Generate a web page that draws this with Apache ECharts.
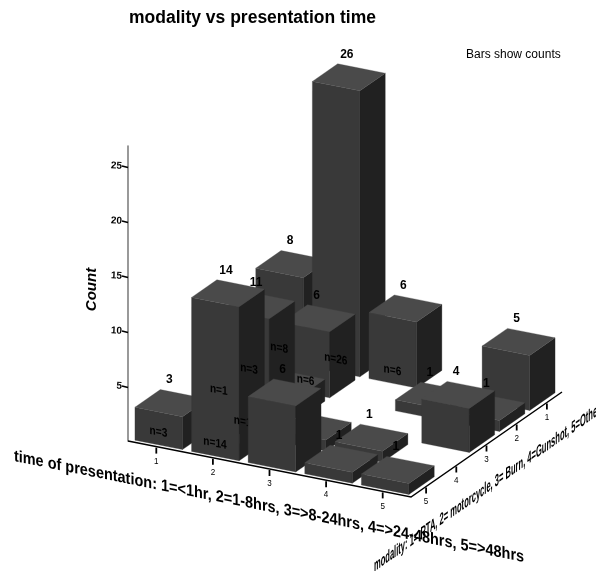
<!DOCTYPE html>
<html><head><meta charset="utf-8">
<style>html,body{margin:0;padding:0;background:#fff}#c{width:596px;height:571px}</style>
<script src="https://cdn.jsdelivr.net/npm/echarts@6/dist/echarts.min.js"></script>
</head><body><div id="c"></div>
<script>
var titleText = 'modality vs presentation time';
var noteText = 'Bars show counts';
var countTitle = 'Count';
var timeTitle = 'time of presentation: 1=<1hr, 2=1-8hrs, 3=>8-24hrs, 4=>24-48hrs, 5=>48hrs';
var modalityTitle = 'modality: 1= RTA, 2= motorcycle, 3= Burn, 4=Gunshot, 5=Other';
var timeTicks = [1, 2, 3, 4, 5];
var modalityTicks = [1, 2, 3, 4, 5];
var countTicks = [5, 10, 15, 20, 25];

// bars in painting order: back to front
var backTime     = [1, 2, 3, 5, 1, 2, 4, 5, 1, 2, 5, 2, 3, 4, 1, 2];
var backModality = [1, 1, 1, 1, 2, 2, 2, 2, 3, 3, 3, 4, 4, 4, 5, 5];
var backCount    = [8, 26, 6, 5, 3, 6, 1, 1, 1, 2, 4, 11, 1, 1, 3, 14];
var frontTime     = [3, 4, 5];
var frontModality = [5, 5, 5];
var frontCount    = [6, 1, 1];

// "n=..." labels visible in the picture
var nTime     = [1, 2, 1, 2, 1, 1, 2, 2, 3];
var nModality = [5, 5, 3, 4, 2, 1, 1, 2, 1];
var nCount    = [3, 14, 1, 11, 3, 8, 26, 6, 6];
// counts printed above bars, visible in the picture
var topTime     = [1, 2, 2, 1, 2, 2, 3, 3, 5, 5, 4, 4, 5, 5, 4];
var topModality = [5, 5, 4, 1, 1, 2, 1, 5, 1, 3, 5, 4, 5, 2, 2];
var topCount    = [3, 14, 11, 8, 26, 6, 6, 6, 5, 4, 1, 1, 1, 1, 1];

// oblique projection
var TIME_STEP = [56.6, 11.2], MOD_STEP = [30.2, -21], CORNER = [283, 56];
var HALF = 0.42;
var FONT = '"Liberation Sans", Arial, sans-serif';
var NARROW = '"Liberation Sans Narrow", "Liberation Sans", Arial, sans-serif';
var TOP = '#4a4a4a', FRONT = '#393939', SIDE = '#212121';

function proj(api, t, m, h) {
  var o = api.coord([0, h]);
  return [
    o[0] + CORNER[0] + (t - 5.5) * TIME_STEP[0] + (5.5 - m) * MOD_STEP[0],
    o[1] + CORNER[1] + (t - 5.5) * TIME_STEP[1] + (5.5 - m) * MOD_STEP[1]
  ];
}
// text whose baseline follows a floor edge while its stems stay upright: y' = y + slope * x
function shearedText(x, y, sx, slope, sy, style, z) {
  var a = sx, b = 0, c = slope * sx, d = sy;
  var E = (a + d) / 2, F = (a - d) / 2, G = (c + b) / 2, H = (c - b) / 2;
  var Q = Math.hypot(E, H), R = Math.hypot(F, G);
  var a1 = Math.atan2(G, F), a2 = Math.atan2(H, E);
  var theta = (a2 - a1) / 2, phi = (a2 + a1) / 2;
  return {type: 'group', x: x, y: y, rotation: -phi, scaleX: Q + R, scaleY: Q - R, z: z,
    children: [{type: 'text', rotation: -theta, z: z, style: style}]};
}
function poly(pts, fill) {
  return {type: 'polygon', shape: {points: pts}, style: {fill: fill, stroke: fill, lineWidth: 0.3}};
}
function renderBar(params, api) {
  var t = api.value(0), m = api.value(1), h = api.value(2);
  var l = t - HALF, r = t + HALF, f = m + HALF, b = m - HALF;
  return {type: 'group', children: [
    poly([proj(api,l,f,0), proj(api,r,f,0), proj(api,r,f,h), proj(api,l,f,h)], FRONT),
    poly([proj(api,r,f,0), proj(api,r,b,0), proj(api,r,b,h), proj(api,r,f,h)], SIDE),
    poly([proj(api,l,f,h), proj(api,r,f,h), proj(api,r,b,h), proj(api,l,b,h)], TOP)
  ]};
}
function renderN(params, api) {
  var p = proj(api, api.value(0), api.value(1), 0);
  return shearedText(p[0] - 13, p[1] - 4, 0.88, 0.198, 1.05,
    {text: 'n=' + api.value(2), fill: '#000', font: 'bold 11.5px ' + FONT, align: 'center', verticalAlign: 'middle'});
}
function renderTop(params, api) {
  var p = proj(api, api.value(0), api.value(1), api.value(2));
  return {type: 'text', x: p[0] - 2, y: p[1] - 23,
    style: {text: String(api.value(2)), fill: '#000', font: 'bold 12px ' + FONT, align: 'center', verticalAlign: 'middle'}};
}
function renderFrame(params, api) {
  var a = proj(api, 0.5, 5.5, 0), c = proj(api, 5.5, 5.5, 0), d = proj(api, 5.5, 0.5, 0);
  return {type: 'polyline', shape: {points: [a, c, d]}, style: {fill: 'none', stroke: '#000', lineWidth: 1.5}};
}
function tickEl(p, text) {
  return {type: 'group', children: [
    {type: 'line', shape: {x1: p[0], y1: p[1] + 1, x2: p[0], y2: p[1] + 7}, style: {stroke: '#000', lineWidth: 1.8}},
    {type: 'text', x: p[0], y: p[1] + 14.5, scaleX: 0.85, style: {text: String(text), fill: '#000', font: '9.5px ' + FONT, align: 'center', verticalAlign: 'middle'}}
  ]};
}
function renderTimeTick(params, api) { return tickEl(proj(api, api.value(0), 5.5, 0), api.value(0)); }
function renderModTick(params, api) { return tickEl(proj(api, 5.5, api.value(0), 0), api.value(0)); }
function renderCountTick(params, api) {
  var p = api.coord([0, api.value(2)]);
  return {type: 'line', shape: {x1: p[0], y1: p[1] + 1.5, x2: p[0] - 6, y2: p[1]}, style: {stroke: '#000', lineWidth: 1.7}};
}
function rows() {
  var a = arguments, out = [];
  for (var i = 0; i < a[0].length; i++) { var r = []; for (var j = 0; j < a.length; j++) r.push(a[j][i]); out.push(r); }
  return out;
}
function series(render, data, z) {
  return {type: 'custom', renderItem: render, data: data, z: z, silent: true, clip: false, animation: false,
          encode: {x: 0, y: 2}};
}
var topRows = rows(topTime, topModality, topCount);

var chart = echarts.init(document.getElementById('c'), null, {renderer: 'canvas'});
chart.setOption({
  backgroundColor: '#fff',
  animation: false,
  title: [
    {text: titleText, left: 129, top: 9, padding: 0, textStyle: {fontFamily: FONT, fontWeight: 'bold', fontSize: 17.5, color: '#000'}},
    {text: noteText, left: 466, top: 49, padding: 0, textStyle: {fontFamily: FONT, fontWeight: 'normal', fontSize: 12, color: '#000'}}
  ],
  grid: {left: 128, top: 146, width: 434, height: 295},
  xAxis: {type: 'value', min: 0, max: 6, show: false},
  yAxis: {
    type: 'value', min: 0, max: 26.82, interval: 5,
    name: countTitle, nameLocation: 'middle', nameGap: 29, nameRotate: 90,
    nameTextStyle: {fontFamily: FONT, fontWeight: 'bold', fontStyle: 'italic', fontSize: 15, color: '#000', padding: [0, 0, 0, 8]},
    axisLine: {show: true, lineStyle: {color: '#808080', width: 1.6}},
    axisTick: {show: false},
    splitLine: {show: false},
    axisLabel: {fontFamily: NARROW, fontSize: 10, fontWeight: 'bold', color: '#000', margin: 6, rotate: -3, customValues: countTicks}
  },
  graphic: [
    shearedText(269, 507, 0.985, 0.198, 1.12,
      {text: timeTitle, font: 'bold 14.7px ' + FONT, fill: '#000', align: 'center', verticalAlign: 'middle'}, 20),
    shearedText(487, 488, 0.56, -0.7, 1.25,
      {text: modalityTitle, font: 'bold 13.5px ' + NARROW, fill: '#000', align: 'center', verticalAlign: 'middle'}, 20)
  ],
  series: [
    series(renderCountTick, countTicks.map(function (v) { return [0, 0, v]; }), 1),
    series(renderFrame, [[0, 0, 0]], 1),
    series(renderTimeTick, timeTicks.map(function (v) { return [v, 0, 0]; }), 1),
    series(renderModTick, modalityTicks.map(function (v) { return [v, 0, 0]; }), 1),
    series(renderBar, rows(backTime, backModality, backCount), 2),
    series(renderN, rows(nTime, nModality, nCount), 3),
    series(renderTop, topRows.filter(function (r) { return r[2] > 1; }), 3),
    series(renderBar, rows(frontTime, frontModality, frontCount), 4),
    series(renderTop, topRows.filter(function (r) { return r[2] === 1; }), 5)
  ]
});
</script></body></html>
